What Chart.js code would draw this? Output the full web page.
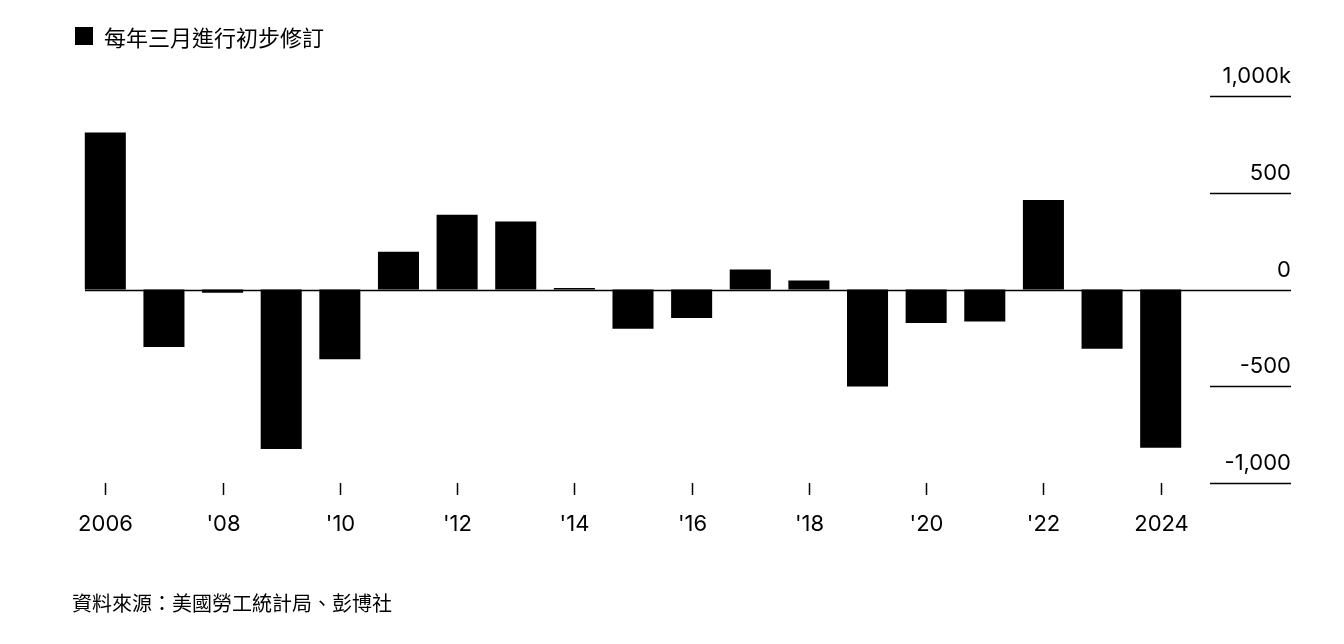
<!DOCTYPE html>
<html><head><meta charset="utf-8">
<script src="https://cdn.jsdelivr.net/npm/chart.js@4"></script>
<style>
body{margin:0;width:1344px;height:644px;background:#fff;overflow:hidden;font-family:Inter,"Noto Sans CJK TC",sans-serif;}
#wrap{position:absolute;left:0;top:0;width:1344px;height:644px;}
.leg{position:absolute;left:75px;top:20px;font-size:22px;color:#000;display:flex;align-items:center;}
.leg span{display:inline-block;width:18px;height:18px;background:#000;margin-right:11px;}
.src{position:absolute;left:72px;top:588px;font-size:20px;color:#000;}
</style></head><body>
<div id="wrap"><canvas id="c" width="1344" height="644"></canvas></div>
<div class="leg"><span></span>每年三月進行初步修訂</div>
<div class="src">資料來源：美國勞工統計局、彭博社</div>
<script>
const years=["2006","2007","2008","2009","2010","2011","2012","2013","2014","2015","2016","2017","2018","2019","2020","2021","2022","2023","2024"];
const xLabels=["2006","","'08","","'10","","'12","","'14","","'16","","'18","","'20","","'22","","2024"];
const revisions=[812,-297,-17,-824,-361,195,386,352,8,-203,-147,104,46,-501,-173,-166,462,-306,-818];
const yTicks=[1000,500,0,-500,-1000];
const yTickLabels=["1,000k","500","0","-500","-1,000"];
const FONT='22px Inter, "Noto Sans CJK TC", sans-serif';
const deco={id:'deco',afterDatasetsDraw(ch){
 const c=ch.ctx,x=ch.scales.x,y=ch.scales.y;
 c.save();
 c.fillStyle='#000';c.strokeStyle='#000';c.font=FONT;
 yTicks.forEach((v,i)=>{const py=Math.round(y.getPixelForValue(v))+0.5;
  c.lineWidth=1.5;c.beginPath();c.moveTo(v===0?85:1210,py);c.lineTo(1291,py);c.stroke();
  c.textAlign='right';c.textBaseline='alphabetic';c.fillText(yTickLabels[i],1291,py-14);});
 xLabels.forEach((l,i)=>{if(!l)return;const px=Math.round(x.getPixelForValue(i))+0.5;
  c.lineWidth=1.5;c.beginPath();c.moveTo(px,483);c.lineTo(px,495);c.stroke();
  c.textAlign='center';c.textBaseline='middle';c.fillText(l,px,524);});
 c.restore();}};
new Chart(document.getElementById('c'),{type:'bar',
 data:{labels:years,datasets:[{data:revisions,backgroundColor:'#000',barPercentage:0.7,categoryPercentage:1}]},
 options:{responsive:false,animation:false,devicePixelRatio:1,
  layout:{padding:{left:76,right:154,top:96,bottom:161}},
  plugins:{legend:{display:false},tooltip:{enabled:false}},
  scales:{x:{display:false},y:{display:false,min:-1000,max:1000}}},
 plugins:[deco]});
</script></body></html>
